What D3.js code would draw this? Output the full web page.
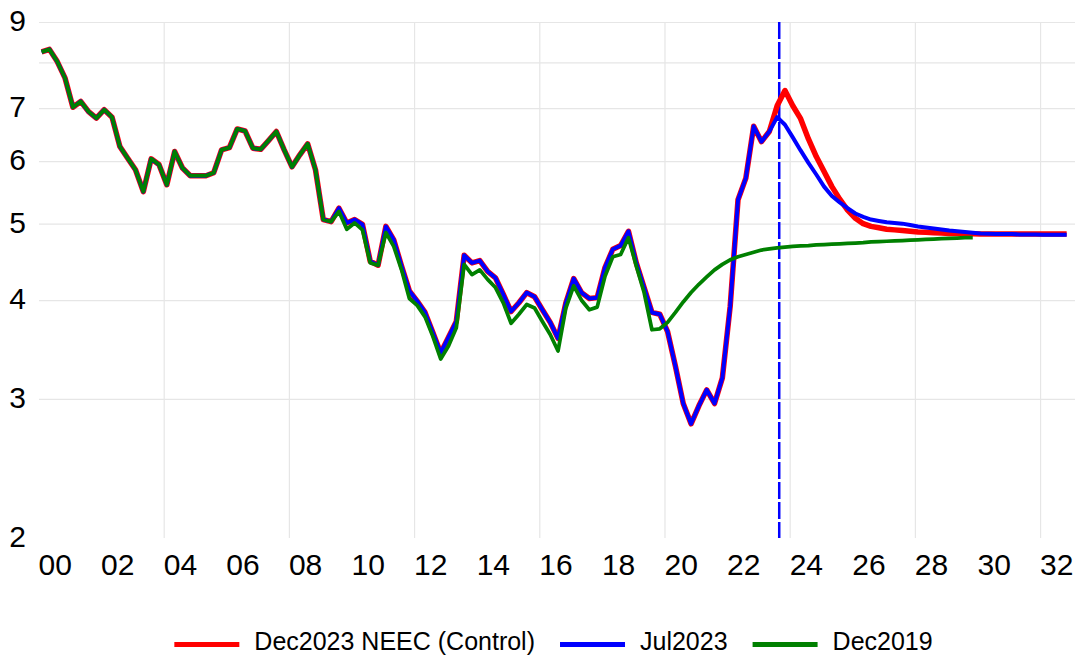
<!DOCTYPE html>
<html>
<head>
<meta charset="utf-8">
<script src="https://cdn.jsdelivr.net/npm/d3@7"></script>
<style>
  body { margin: 0; background: #fff; }
  svg { font-family: "Liberation Sans", Arial, sans-serif; }
</style>
</head>
<body>
<svg id="chart" width="1079" height="660"></svg>
<script>
// quarterly data, first point = 2000Q1
const startYear = 2000;

// 2000Q1 - 2009Q2, same in every vintage
const sharedHistory = [
  8.25, 8.31, 8.02, 7.64, 7.02, 7.14, 6.93, 6.80, 6.97, 6.82,
  6.26, 6.05, 5.85, 5.49, 6.04, 5.94, 5.60, 6.17, 5.88, 5.75,
  5.75, 5.75, 5.80, 6.20, 6.24, 6.59, 6.55, 6.23, 6.21, 6.37,
  6.54, 6.20, 5.90, 6.11, 6.31, 5.85, 5.06, 5.03
];

// 2009Q3 - 2023Q2, Dec2023 and Jul2023 vintages
const revisedHistory = [
  5.23, 5.01, 5.06, 4.99, 4.48, 4.43, 4.96, 4.77, 4.42, 4.11,
  3.99, 3.86, 3.64, 3.43, 3.59, 3.76, 4.56, 4.46, 4.49, 4.35,
  4.27, 4.07, 3.87, 3.97, 4.09, 4.04, 3.89, 3.75, 3.58, 3.97,
  4.26, 4.09, 4.02, 4.03, 4.40, 4.64, 4.69, 4.89, 4.46, 4.15,
  3.86, 3.84, 3.65, 3.30, 2.96, 2.79, 2.94, 3.08, 2.96, 3.19,
  3.93, 5.36, 5.71, 6.64, 6.35, 6.54
];

// 2023Q3 - 2032Q4
const redForecast = [
  7.05, 7.37, 7.05, 6.79, 6.40, 6.08, 5.82, 5.57, 5.37, 5.20,
  5.08, 5.00, 4.96, 4.94, 4.92, 4.91, 4.90, 4.89, 4.88, 4.875,
  4.87, 4.865, 4.86, 4.86, 4.855, 4.855, 4.85, 4.85, 4.85, 4.85,
  4.85, 4.85, 4.85, 4.85, 4.85, 4.85, 4.85, 4.85
];

const blueForecast = [
  6.82, 6.67, 6.43, 6.19, 5.97, 5.77, 5.57, 5.42, 5.32, 5.23,
  5.15, 5.10, 5.06, 5.04, 5.02, 5.01, 5.00, 4.98, 4.96, 4.945,
  4.93, 4.915, 4.90, 4.89, 4.88, 4.87, 4.86, 4.855, 4.85, 4.85,
  4.85, 4.845, 4.845, 4.845, 4.84, 4.84, 4.84, 4.84
];

// Dec2019 vintage, 2009Q3 - 2029Q4
const greenTail = [
  5.18, 4.92, 5.01, 4.91, 4.46, 4.43, 4.87, 4.68, 4.37, 4.02,
  3.94, 3.81, 3.60, 3.37, 3.50, 3.69, 4.44, 4.31, 4.37, 4.25,
  4.15, 3.97, 3.74, 3.84, 3.95, 3.91, 3.76, 3.62, 3.45, 3.91,
  4.17, 4.00, 3.89, 3.92, 4.29, 4.54, 4.57, 4.80, 4.42, 4.09,
  3.67, 3.68,
  3.75, 3.86, 3.98, 4.09, 4.19, 4.28, 4.37, 4.44, 4.50, 4.54,
  4.57, 4.60, 4.63, 4.645, 4.66, 4.67, 4.68, 4.685, 4.69, 4.70,
  4.705, 4.71, 4.715, 4.72, 4.725, 4.73, 4.74, 4.745, 4.75, 4.755,
  4.76, 4.765, 4.77, 4.775, 4.78, 4.785, 4.79, 4.795, 4.80, 4.80
];

const seriesNames = ['Dec2023 NEEC (Control)', 'Jul2023', 'Dec2019'];
const seriesColors = ['#ff0000', '#0000ff', '#008000'];
const seriesWidths = [5.5, 4, 3.75];

const yGridValues = [2, 3, 4, 5, 6, 7, 8, 9];
const yLabelValues = [2, 3, 4, 5, 6, 7, 9];
const xTickYears = d3.range(2000, 2033, 2);
const xGridYears = d3.range(2004, 2033, 4);
const markerYear = 2023.65;

const series = [
  sharedHistory.concat(revisedHistory, redForecast),
  sharedHistory.concat(revisedHistory, blueForecast),
  sharedHistory.concat(greenTail)
];

const quarterTime = i => startYear + i / 4 + 1 / 12;

const svg = d3.select('#chart');
const plotLeft = 39, plotRight = 1075, plotTop = 22, plotBottom = 538;

const x = d3.scaleLinear().domain([2000, 2033.1]).range([plotLeft, plotRight]);
const y = d3.scaleLog().domain([2, 9]).range([plotBottom, plotTop]);

const gridColor = '#e6e6e6';

// vertical grid
svg.append('g').selectAll('line').data(xGridYears)
  .enter().append('line')
    .attr('x1', d => x(d)).attr('x2', d => x(d))
    .attr('y1', plotTop).attr('y2', plotBottom)
    .attr('stroke', gridColor).attr('stroke-width', 1.2);

// y axis with horizontal grid
const yAxis = d3.axisLeft(y)
  .tickValues(yGridValues)
  .tickSize(-(plotRight - plotLeft))
  .tickPadding(13)
  .tickFormat(d => yLabelValues.includes(d) ? d : '');

const yAxisG = svg.append('g')
  .attr('transform', `translate(${plotLeft},0)`)
  .call(yAxis);
yAxisG.select('.domain').remove();
yAxisG.selectAll('.tick line')
  .attr('stroke', d => d === 2 ? 'none' : gridColor)
  .attr('stroke-width', 1.2);
yAxisG.selectAll('.tick text')
  .attr('font-size', 30)
  .attr('font-family', '"Liberation Sans", Arial, sans-serif')
  .attr('fill', '#000')
  .attr('dy', '0.29em');

// x axis
const xAxis = d3.axisBottom(x)
  .tickValues(xTickYears)
  .tickSize(0)
  .tickFormat(d => String(d % 100).padStart(2, '0'));

const xAxisG = svg.append('g')
  .attr('transform', `translate(0,${plotBottom})`)
  .call(xAxis);
xAxisG.select('.domain').remove();
xAxisG.selectAll('.tick text')
  .attr('font-size', 30)
  .attr('font-family', '"Liberation Sans", Arial, sans-serif')
  .attr('fill', '#000')
  .attr('text-anchor', 'start')
  .attr('x', -1)
  .attr('y', 37)
  .attr('dy', 0);

// forecast marker
svg.append('line')
  .attr('x1', x(markerYear)).attr('x2', x(markerYear))
  .attr('y1', plotTop).attr('y2', plotBottom)
  .attr('stroke', '#0000ff')
  .attr('stroke-width', 2.5)
  .attr('stroke-dasharray', '17,3');

// lines
const line = d3.line()
  .x((d, i) => x(quarterTime(i)))
  .y(d => y(d));

svg.append('g').selectAll('path').data(series)
  .enter().append('path')
    .attr('d', line)
    .attr('fill', 'none')
    .attr('stroke', (d, i) => seriesColors[i])
    .attr('stroke-width', (d, i) => seriesWidths[i])
    .attr('stroke-linejoin', 'round');

// legend
const legend = svg.append('g');
const swatchLen = 65, swatchGap = 15, itemGap = 25, legendY = 644.5;
const items = legend.selectAll('g').data(seriesNames)
  .enter().append('g');
items.append('line')
  .attr('x1', 0).attr('x2', swatchLen)
  .attr('y1', legendY).attr('y2', legendY)
  .attr('stroke', (d, i) => seriesColors[i])
  .attr('stroke-width', 5);
items.append('text')
  .attr('x', swatchLen + swatchGap)
  .attr('y', legendY + 5.5)
  .attr('font-size', 25)
  .attr('fill', '#000')
  .text(d => d);

const widths = [];
items.each(function() {
  const w = swatchLen + swatchGap + d3.select(this).select('text').node().getComputedTextLength();
  widths.push(w);
});
const total = d3.sum(widths) + itemGap * (widths.length - 1);
let cursor = 553.5 - total / 2;
items.attr('transform', (d, i) => {
  const tx = cursor;
  cursor += widths[i] + itemGap;
  return `translate(${tx},0)`;
});
</script>
</body>
</html>
